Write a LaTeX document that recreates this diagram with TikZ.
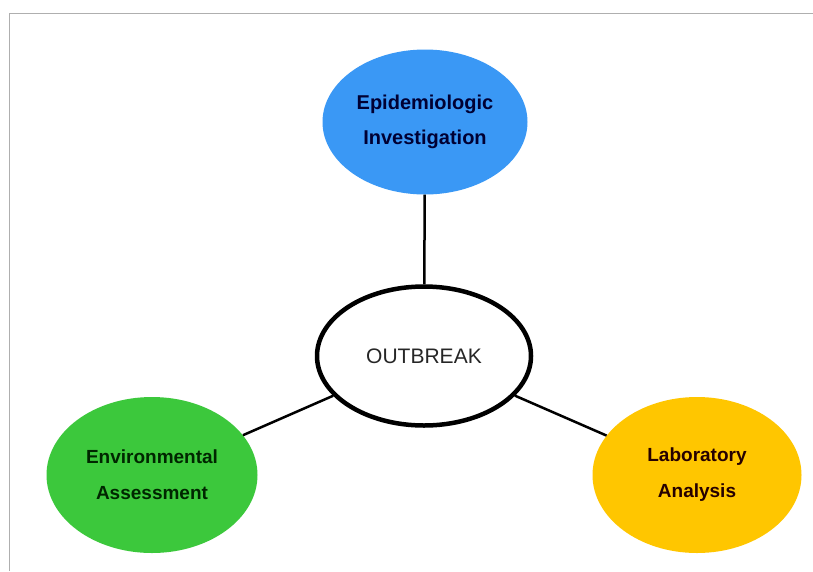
\documentclass[tikz,border=0pt]{standalone}
\usepackage{fontspec}
\setmainfont{Liberation Sans}
\usetikzlibrary{shapes.geometric}
\definecolor{epiblue}{RGB}{58,152,245}
\definecolor{envgreen}{RGB}{60,200,60}
\definecolor{labyellow}{RGB}{255,198,0}
\definecolor{framegray}{RGB}{175,175,175}
\tikzset{
  blob/.style={ellipse, inner sep=0pt, align=center, font=\bfseries\fontsize{19}{36}\selectfont, text=black!85},
  link/.style={line width=2.5pt, black}
}
\begin{document}
\begin{tikzpicture}[x=1pt,y=-1pt]
\useasboundingbox (0,0) rectangle (813,571);
\fill[white] (0,0) rectangle (813,571);
\draw[framegray, line width=1pt] (9.5,571) -- (9.5,13.5) -- (813,13.5);
\node[blob, fill=epiblue, minimum width=205pt, minimum height=145pt, font=\bfseries\fontsize{20}{35}\selectfont, text=black!80!blue] (epi) at (425,122) {Epidemiologic\\Investigation};
\node[blob, fill=envgreen, minimum width=211pt, minimum height=156pt, text=black!85!green] (env) at (152,475) {Environmental\\Assessment};
\node[blob, fill=labyellow, minimum width=209pt, minimum height=156pt, text=black!85!red] (lab) at (697,475) {Laboratory\\Analysis};
\node[ellipse, draw=black, line width=4.5pt, fill=white, minimum width=214pt, minimum height=139pt, font=\fontsize{21}{25}\selectfont, text=black!85] (out) at (424,356) {OUTBREAK};
\draw[link] (epi) -- (out);
\draw[link] (out) -- (env);
\draw[link] (out) -- (lab);
\end{tikzpicture}
\end{document}
